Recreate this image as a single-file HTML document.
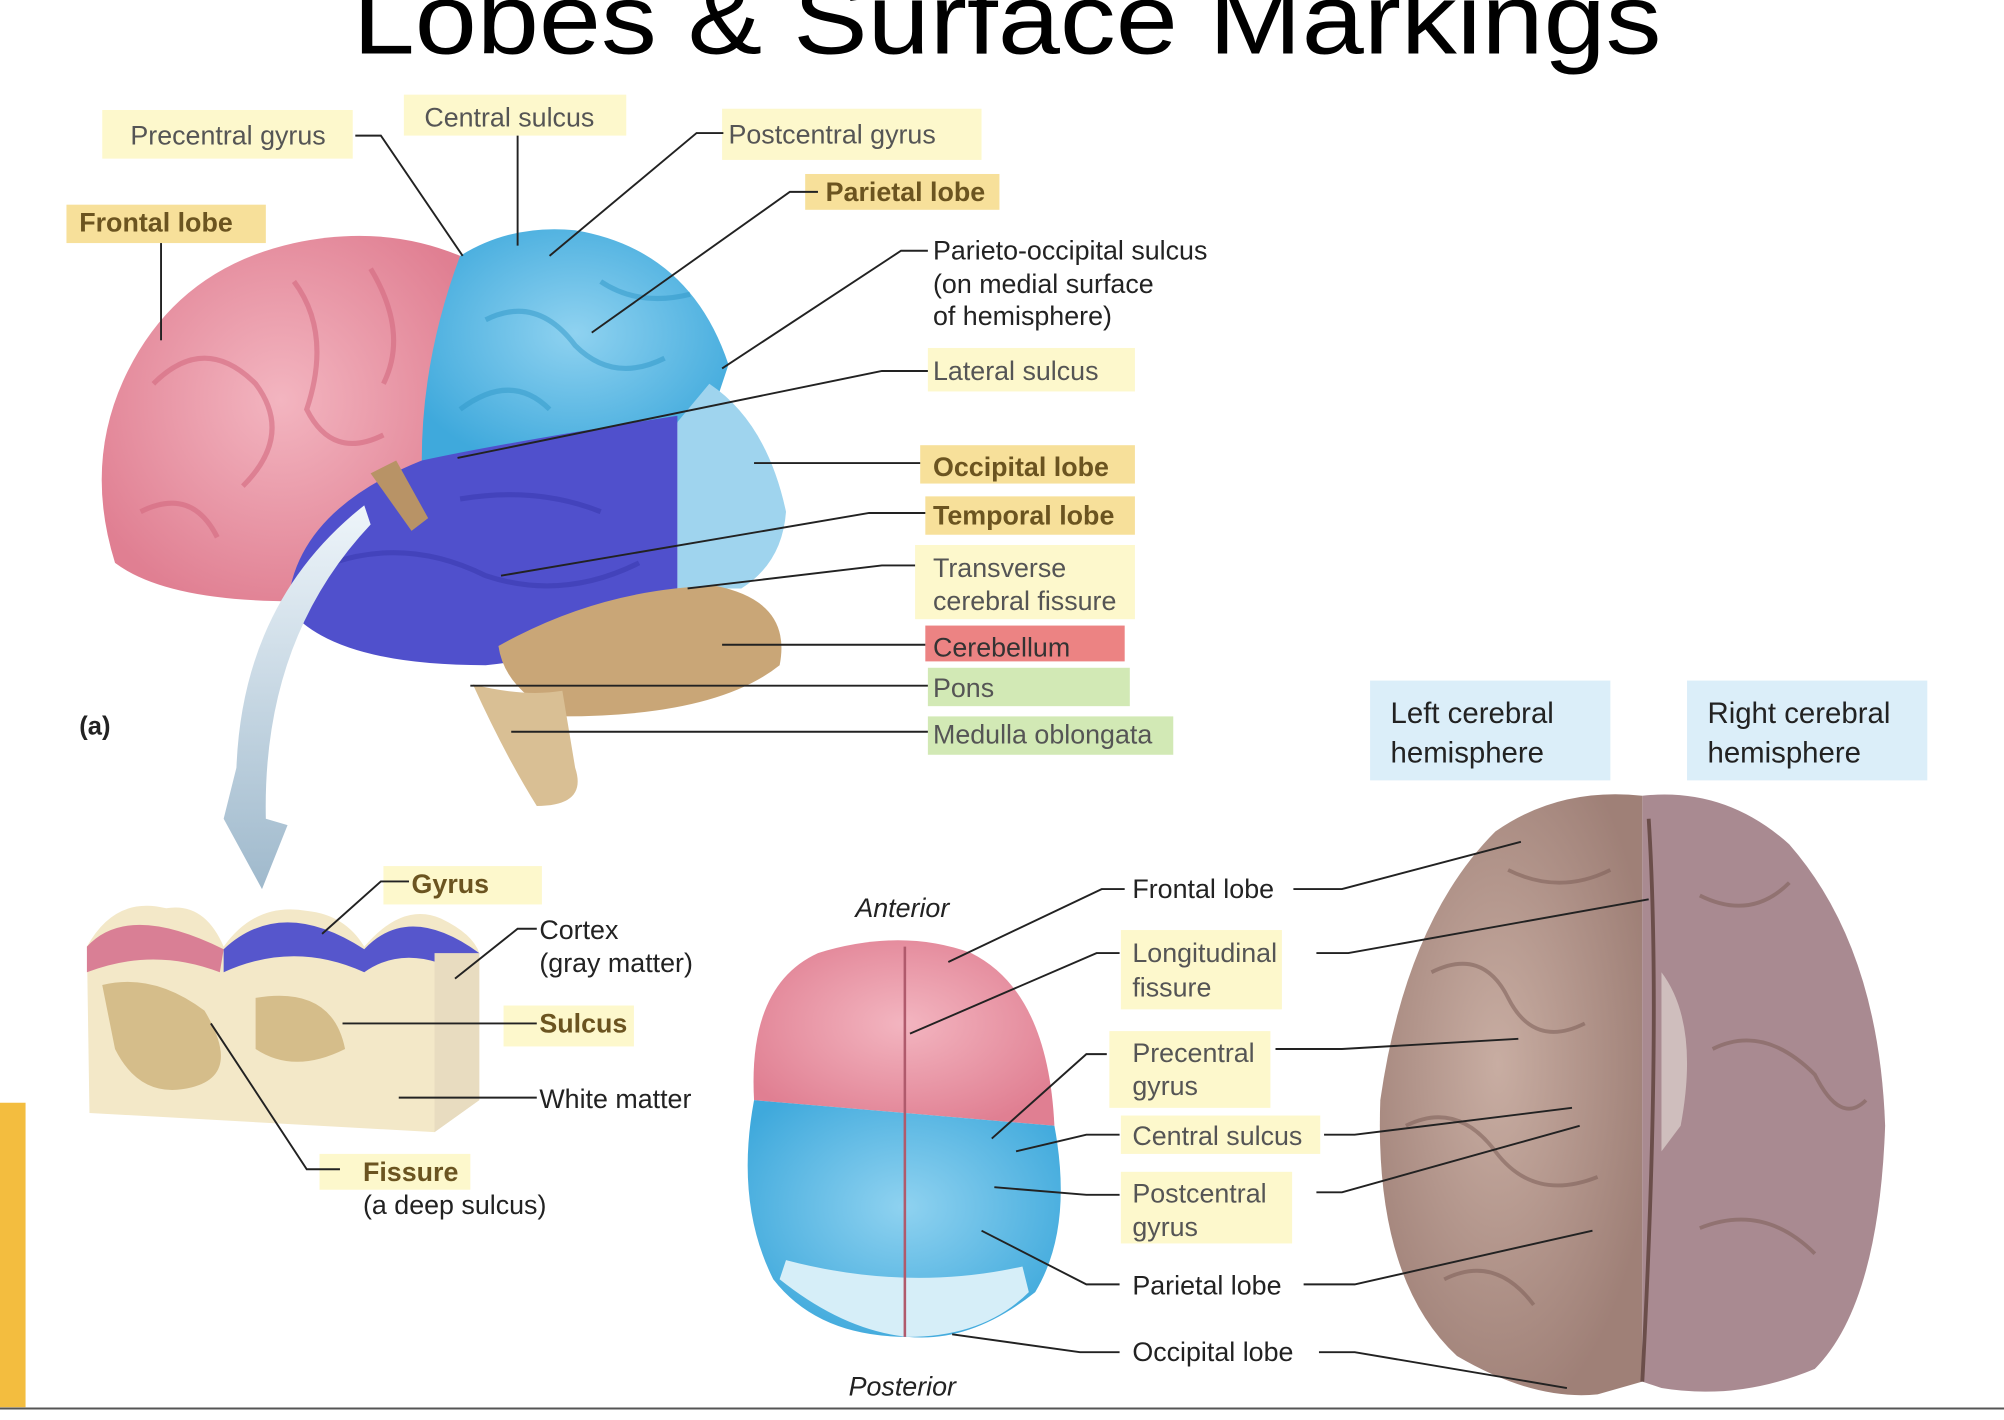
<!DOCTYPE html>
<html><head><meta charset="utf-8"><style>
html,body{margin:0;padding:0;background:#fff;overflow:hidden}
svg{display:block}
text{font-family:"Liberation Sans",Arial,sans-serif}
</style></head><body>
<svg width="2004" height="1420" viewBox="0 0 1568 1110" preserveAspectRatio="none" xmlns="http://www.w3.org/2000/svg">
<defs>
<radialGradient id="pk" cx="50%" cy="45%" r="60%"><stop offset="0" stop-color="#f3b5c0"/><stop offset="1" stop-color="#e07f92"/></radialGradient>
<radialGradient id="bl" cx="50%" cy="45%" r="60%"><stop offset="0" stop-color="#8fd2f0"/><stop offset="1" stop-color="#3fa9dc"/></radialGradient>
<radialGradient id="br" cx="45%" cy="45%" r="60%"><stop offset="0" stop-color="#c8ada2"/><stop offset="1" stop-color="#9f8077"/></radialGradient>
<linearGradient id="ar" x1="0" y1="0" x2="0" y2="1"><stop offset="0" stop-color="#eef5fa"/><stop offset="1" stop-color="#9fb9cc"/></linearGradient>
</defs>
<rect width="1568" height="1110" fill="#fff"/>
<text x="276" y="42" font-size="78" textLength="1024" lengthAdjust="spacingAndGlyphs" fill="#000">Lobes &amp; Surface Markings</text>
<line x1="0" y1="1101" x2="1568" y2="1101" stroke="#555" stroke-width="1.5"/>
<rect x="0" y="862" width="20" height="238" fill="#f3bd3f"/>

<!-- lateral brain -->
<path d="M360,200 Q300,175 230,190 Q140,210 100,290 Q65,360 90,440 Q130,470 230,470 L330,360 Q345,280 360,200Z" fill="url(#pk)"/>
<g stroke="#d46a80" stroke-width="4" fill="none" opacity=".6">
<path d="M120,300 Q160,260 200,300 Q230,340 190,380"/><path d="M230,220 Q260,260 240,320 Q260,360 300,340"/><path d="M110,400 Q150,380 170,420"/><path d="M290,210 Q320,260 300,300"/>
</g>
<path d="M360,200 Q400,175 450,180 Q540,195 570,285 L555,330 Q480,330 360,360 L330,360 Q330,280 360,200Z" fill="url(#bl)"/>
<g stroke="#2f97c8" stroke-width="4" fill="none" opacity=".5">
<path d="M380,250 Q420,230 450,270 Q480,300 520,280"/><path d="M360,320 Q400,290 430,320"/><path d="M470,220 Q500,240 540,230"/>
</g>
<path d="M555,300 Q600,330 615,400 Q612,440 580,460 L530,460 L530,330Z" fill="#9fd4ee"/>
<path d="M330,360 Q400,345 530,325 L530,460 Q480,510 380,520 Q260,520 225,475 Q230,400 330,360Z" fill="#5050cc"/>
<g stroke="#3b3bb0" stroke-width="4" fill="none" opacity=".6"><path d="M260,440 Q320,420 380,450 Q440,470 500,440"/><path d="M360,390 Q420,380 470,400"/></g>
<path d="M390,505 Q470,460 560,458 Q620,470 610,520 Q560,560 440,560 Q395,540 390,505Z" fill="#c9a677"/>
<path d="M370,535 Q410,545 440,540 L450,600 Q460,630 420,630 Q395,590 370,535Z" fill="#d9bf94"/>
<path d="M290,370 L310,360 L335,405 L322,415Z" fill="#b89366"/>
<path d="M285,395 Q190,470 185,600 L175,640 L205,695 L225,645 L208,640 Q205,500 290,410Z" fill="url(#ar)"/>
<text x="62" y="574" font-size="20" font-weight="bold" fill="#222">(a)</text>

<g font-size="21" fill="#555">
<rect x="80" y="86" width="196" height="38" fill="#fdf8cc"/><text x="102" y="113">Precentral gyrus</text>
<rect x="316" y="74" width="174" height="32" fill="#fdf8cc"/><text x="332" y="99">Central sulcus</text>
<rect x="565" y="85" width="203" height="40" fill="#fdf8cc"/><text x="570" y="112">Postcentral gyrus</text>
<rect x="52" y="160" width="156" height="30" fill="#f7e09a"/><text x="62" y="181" font-weight="bold" fill="#6b5420">Frontal lobe</text>
<rect x="630" y="136" width="152" height="28" fill="#f7e09a"/><text x="646" y="157" font-weight="bold" fill="#6b5420">Parietal lobe</text>
<text x="730" y="203" fill="#222">Parieto-occipital sulcus</text><text x="730" y="229" fill="#222">(on medial surface</text><text x="730" y="254" fill="#222">of hemisphere)</text>
<rect x="726" y="272" width="162" height="34" fill="#fdf8cc"/><text x="730" y="297">Lateral sulcus</text>
<rect x="720" y="348" width="168" height="30" fill="#f7e09a"/><text x="730" y="372" font-weight="bold" fill="#6b5420">Occipital lobe</text>
<rect x="724" y="388" width="164" height="30" fill="#f7e09a"/><text x="730" y="410" font-weight="bold" fill="#6b5420">Temporal lobe</text>
<rect x="716" y="426" width="172" height="58" fill="#fdf8cc"/><text x="730" y="451">Transverse</text><text x="730" y="477">cerebral fissure</text>
<rect x="724" y="489" width="156" height="28" fill="#ec8383"/><text x="730" y="513" fill="#333">Cerebellum</text>
<rect x="726" y="522" width="158" height="30" fill="#d2e9b5"/><text x="730" y="545" fill="#555">Pons</text>
<rect x="726" y="560" width="192" height="30" fill="#d2e9b5"/><text x="730" y="581" fill="#555">Medulla oblongata</text>
</g>
<g stroke="#222" stroke-width="1.5" fill="none">
<path d="M278,106 H298 L362,200"/><path d="M405,106 V192"/><path d="M566,104 H545 L430,200"/>
<path d="M640,150 H618 L463,260"/><path d="M126,190 V266"/><path d="M726,196 H705 L565,288"/>
<path d="M726,290 H690 L358,358"/><path d="M720,362 H590"/><path d="M724,401 H680 L392,450"/>
<path d="M716,442 H690 L538,460"/><path d="M724,504 H565"/><path d="M726,536 H368"/><path d="M726,572 H400"/>
</g>

<!-- cortex block -->
<path d="M68,740 Q90,700 130,710 Q160,705 175,740 Q200,705 240,712 Q270,715 285,740 Q315,705 345,718 Q370,730 375,745 L375,860 L340,885 L70,870Z" fill="#f3e8c8"/>
<path d="M68,740 Q100,705 175,742 L172,760 Q120,740 68,760Z" fill="#d97f95"/>
<path d="M175,742 Q220,700 285,742 Q320,705 375,745 L370,765 Q320,735 285,760 Q230,735 175,760Z" fill="#5656cc"/>
<path d="M80,770 Q120,760 160,790 Q190,840 150,850 Q110,860 90,820Z M200,780 Q260,770 270,820 Q230,840 200,820Z" fill="#cdb27a" opacity=".8"/>
<path d="M340,745 L375,745 L375,860 L340,885Z" fill="#e8dcc0"/>
<g font-size="21" fill="#222">
<rect x="300" y="677" width="124" height="30" fill="#fdf8cc"/><text x="322" y="698" font-weight="bold" fill="#6b5420">Gyrus</text>
<text x="422" y="734">Cortex</text><text x="422" y="760">(gray matter)</text>
<rect x="394" y="786" width="102" height="32" fill="#fdf8cc"/><text x="422" y="807" font-weight="bold" fill="#6b5420">Sulcus</text>
<text x="422" y="866">White matter</text>
<rect x="250" y="902" width="118" height="28" fill="#fdf8cc"/><text x="284" y="923" font-weight="bold" fill="#6b5420">Fissure</text>
<text x="284" y="949">(a deep sulcus)</text>
</g>
<g stroke="#222" stroke-width="1.5" fill="none">
<path d="M320,689 H298 L252,730"/><path d="M420,726 H405 L356,765"/><path d="M420,800 H268"/><path d="M420,858 H312"/><path d="M266,914 H240 L165,800"/>
</g>

<!-- top view small brain -->
<text x="706" y="717" font-size="21" font-style="italic" text-anchor="middle" fill="#222">Anterior</text>
<text x="706" y="1091" font-size="21" font-style="italic" text-anchor="middle" fill="#222">Posterior</text>
<path d="M590,860 Q585,770 640,745 Q705,725 760,745 Q820,775 825,880 Z" fill="url(#pk)"/>
<path d="M590,860 L825,880 Q840,960 810,1010 Q760,1050 710,1045 Q640,1045 605,1000 Q575,940 590,860Z" fill="url(#bl)"/>
<path d="M610,1000 Q660,1040 710,1045 Q770,1045 805,1010 L800,990 Q710,1010 615,985Z" fill="#d6eef8"/>
<path d="M708,740 L708,1045" stroke="#b05a6c" stroke-width="2"/>

<!-- photo brain -->
<path d="M1285,622 Q1220,615 1170,650 Q1100,720 1080,860 Q1075,1000 1140,1060 Q1200,1095 1250,1090 L1285,1080Z" fill="url(#br)"/>
<path d="M1285,622 Q1350,615 1400,660 Q1470,740 1475,880 Q1470,1020 1420,1070 Q1360,1095 1300,1085 L1285,1080Z" fill="#a98a91"/>
<g stroke="#7d5f58" stroke-width="3" fill="none" opacity=".55">
<path d="M1120,760 Q1160,740 1180,780 Q1200,820 1240,800"/><path d="M1100,880 Q1140,860 1170,900 Q1200,940 1250,920"/><path d="M1130,1000 Q1170,980 1200,1020"/><path d="M1180,680 Q1220,700 1260,680"/>
<path d="M1330,700 Q1370,720 1400,690"/><path d="M1340,820 Q1380,800 1420,840 Q1440,880 1460,860"/><path d="M1330,960 Q1380,940 1420,980"/>
</g>
<path d="M1290,640 Q1300,800 1285,1080" stroke="#6b4e4a" stroke-width="3" fill="none"/>
<path d="M1300,760 Q1330,800 1315,880 L1300,900Z" fill="#d8cbc8" opacity=".8"/>
<rect x="1072" y="532" width="188" height="78" fill="#dbeef9"/><text x="1088" y="565" font-size="23" fill="#222">Left cerebral</text><text x="1088" y="596" font-size="23" fill="#222">hemisphere</text>
<rect x="1320" y="532" width="188" height="78" fill="#dbeef9"/><text x="1336" y="565" font-size="23" fill="#222">Right cerebral</text><text x="1336" y="596" font-size="23" fill="#222">hemisphere</text>

<g font-size="21" fill="#222">
<text x="886" y="702">Frontal lobe</text>
<rect x="877" y="727" width="126" height="62" fill="#fdf8cc"/><text x="886" y="752" fill="#555">Longitudinal</text><text x="886" y="779" fill="#555">fissure</text>
<rect x="868" y="806" width="126" height="60" fill="#fdf8cc"/><text x="886" y="830" fill="#555">Precentral</text><text x="886" y="856" fill="#555">gyrus</text>
<rect x="877" y="872" width="156" height="30" fill="#fdf8cc"/><text x="886" y="895" fill="#555">Central sulcus</text>
<rect x="877" y="916" width="134" height="56" fill="#fdf8cc"/><text x="886" y="940" fill="#555">Postcentral</text><text x="886" y="966" fill="#555">gyrus</text>
<text x="886" y="1012">Parietal lobe</text>
<text x="886" y="1064">Occipital lobe</text>
</g>
<g stroke="#222" stroke-width="1.5" fill="none">
<path d="M880,695 H862 L742,752"/><path d="M876,745 H858 L712,808"/><path d="M866,824 H850 L776,890"/>
<path d="M876,887 H850 L795,900"/><path d="M876,934 H850 L778,928"/><path d="M876,1004 H850 L768,962"/><path d="M876,1057 H845 L745,1043"/>
<path d="M1012,695 H1050 L1190,658"/><path d="M1030,745 H1055 L1290,703"/><path d="M998,820 H1050 L1188,812"/>
<path d="M1036,887 H1060 L1230,866"/><path d="M1030,932 H1050 L1236,880"/><path d="M1020,1004 H1060 L1246,962"/><path d="M1032,1057 H1060 L1226,1085"/>
</g>
</svg>
</body></html>
